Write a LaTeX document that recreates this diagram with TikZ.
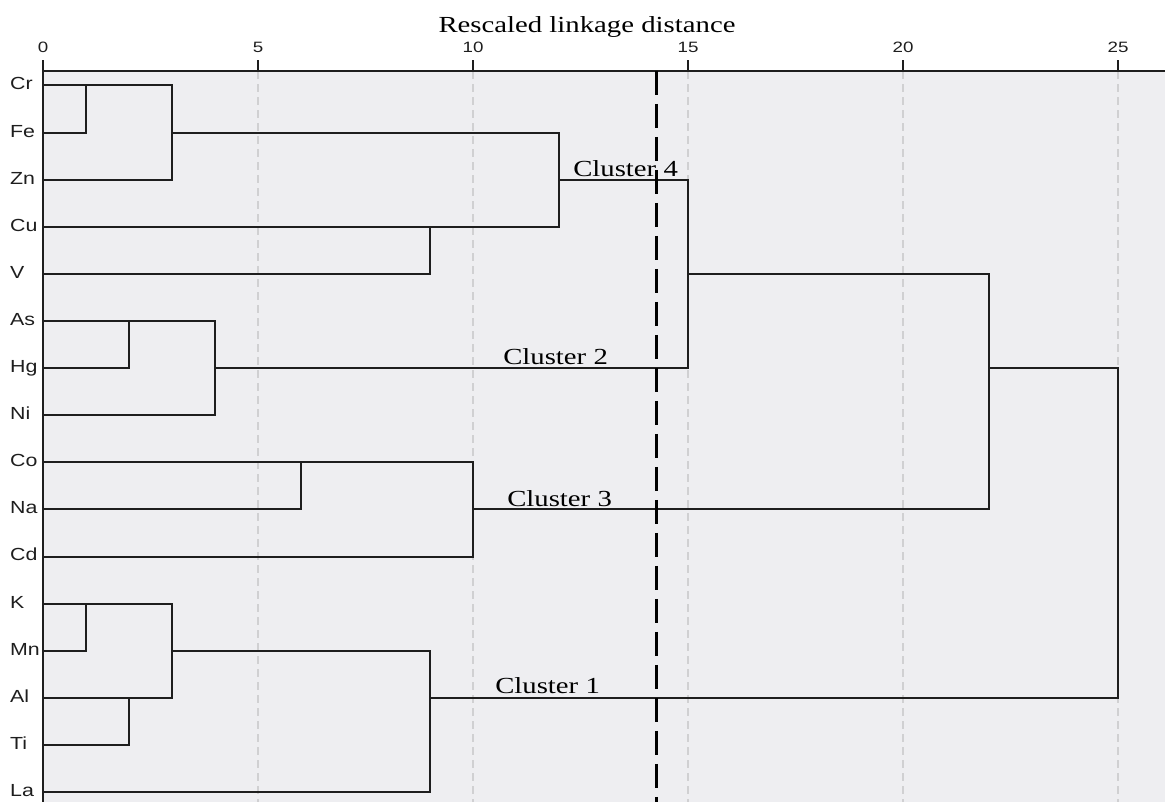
\documentclass[tikz,border=0pt]{standalone}
\usepackage{fontspec}
\setmainfont{Liberation Serif}
\newfontfamily\arialf{Liberation Sans}
\definecolor{plotbg}{RGB}{238,238,241}
\definecolor{gridc}{RGB}{208,208,210}
\definecolor{linec}{RGB}{30,30,30}
\tikzset{
  dendro/.style={draw=linec, line width=2pt, line cap=rect},
  gridline/.style={draw=gridc, line width=1.3pt, dash pattern=on 8pt off 5pt},
  cutline/.style={draw=black, line width=3.3pt, dash pattern=on 24pt off 9pt},
  axisline/.style={draw=linec, line width=1.6pt},
  elem/.style={font=\arialf\fontsize{17.5}{20}\selectfont, anchor=base west, inner sep=0pt, xscale=1.22, text=linec},
  ticklab/.style={font=\arialf\fontsize{15}{17}\selectfont, anchor=base, inner sep=0pt, xscale=1.25, text=linec},
  clab/.style={font=\fontsize{23}{26}\selectfont, anchor=base west, inner sep=0pt, xscale=1.25, text=black},
  titlelab/.style={font=\fontsize{23}{26}\selectfont, anchor=base, inner sep=0pt, xscale=1.25, text=black}
}
\begin{document}
\begin{tikzpicture}
\useasboundingbox (0,0) rectangle (1165pt,-802pt);
% plot background
\fill[plotbg] (43pt,-71pt) rectangle (1165pt,-802pt);
\node[titlelab] (title) at (587pt,-33pt) {Rescaled linkage distance};
\begin{scope}[shift={(43pt,-85.5pt)}, x=43pt, y=-47.1pt]
  % grid lines
  \foreach \g in {5,10,15,20,25} {
    \draw[gridline] (\g,-0.30) -- (\g,15.25);
  }
  % axes
  \draw[axisline] (0,-0.308) -- (26.1,-0.308);
  \draw[axisline] (0,-0.308) -- (0,15.25);
  \foreach \g in {0,5,10,15,20,25} {
    \draw[axisline] (\g,-0.308) -- (\g,-0.54);
    \node[ticklab] (t\g) at (\g,-0.69) {\g};
  }
  % leaves
  \foreach \n/\r in {Cr/0,Fe/1,Zn/2,Cu/3,V/4,As/5,Hg/6,Ni/7,Co/8,Na/9,Cd/10,K/11,Mn/12,Al/13,Ti/14,La/15} {
    \coordinate (\n) at (0,\r);
    \node[elem] (lab\n) at (-0.77,\r+0.095) {\n};
  }
  % merge points (height, output row)
  \coordinate (cf) at (1,0);
  \coordinate (cfz) at (3,1);
  \coordinate (cv) at (9,3);
  \coordinate (c4) at (12,2);
  \coordinate (ah) at (2,5);
  \coordinate (c2) at (4,6);
  \coordinate (c42) at (15,4);
  \coordinate (cn) at (6,8);
  \coordinate (c3) at (10,9);
  \coordinate (c432) at (22,6);
  \coordinate (km) at (1,11);
  \coordinate (at) at (2,13);
  \coordinate (kmat) at (3,12);
  \coordinate (c1) at (9,13);
  \coordinate (root) at (25,6);
  % dendrogram
  \draw[dendro] (Cr) -| (cf) |- (Fe);
  \draw[dendro] (cf) -| (cfz) |- (Zn);
  \draw[dendro] (Cu) -| (cv) |- (V);
  \draw[dendro] (cfz) -| (c4) |- (cv);
  \draw[dendro] (As) -| (ah) |- (Hg);
  \draw[dendro] (ah) -| (c2) |- (Ni);
  \draw[dendro] (c4) -| (c42) |- (c2);
  \draw[dendro] (Co) -| (cn) |- (Na);
  \draw[dendro] (cn) -| (c3) |- (Cd);
  \draw[dendro] (c42) -| (c432) |- (c3);
  \draw[dendro] (K) -| (km) |- (Mn);
  \draw[dendro] (Al) -| (at) |- (Ti);
  \draw[dendro] (km) -| (kmat) |- (at);
  \draw[dendro] (kmat) -| (c1) |- (La);
  \draw[dendro] (c432) -| (root) |- (c1);
  % cut line
  \coordinate (cuttop) at (14.26,-0.308);
  \coordinate (cutbot) at (14.26,15.25);
  \draw[cutline] (cuttop) -- (cutbot);
\end{scope}
% cluster labels
\node[clab] (cl4) at (573pt,-177pt) {Cluster 4};
\node[clab] (cl2) at (503pt,-364pt) {Cluster 2};
\node[clab] (cl3) at (507pt,-506pt) {Cluster 3};
\node[clab] (cl1) at (495pt,-693pt) {Cluster 1};
\end{tikzpicture}
\end{document}
